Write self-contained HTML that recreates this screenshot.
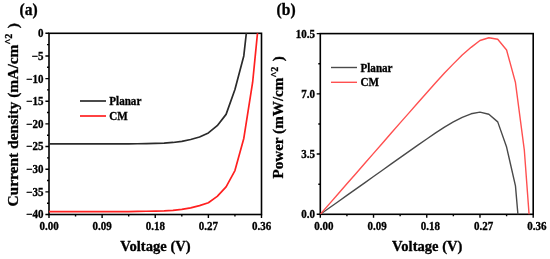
<!DOCTYPE html>
<html><head><meta charset="utf-8"><style>
html,body{margin:0;padding:0;background:#fff;}
body{width:550px;height:259px;overflow:hidden;}
svg{display:block;will-change:transform;filter:blur(0.35px);}
</style></head><body>
<svg width="550" height="259" viewBox="0 0 550 259">
<rect width="550" height="259" fill="#fff"/>
<g fill="none" stroke="#000" stroke-linecap="square">
<rect x="49.0" y="33.3" width="212.50" height="181.20" stroke-width="1.6"/>
<rect x="320.3" y="33.6" width="212.90" height="180.70" stroke-width="1.6"/>
</g>
<path d="M45.40,33.30H49.0M45.40,55.95H49.0M45.40,78.60H49.0M45.40,101.25H49.0M45.40,123.90H49.0M45.40,146.55H49.0M45.40,169.20H49.0M45.40,191.85H49.0M45.40,214.50H49.0M47.00,44.62H49.0M47.00,67.27H49.0M47.00,89.92H49.0M47.00,112.57H49.0M47.00,135.22H49.0M47.00,157.88H49.0M47.00,180.52H49.0M47.00,203.18H49.0M49.00,214.5V217.90M320.30,214.3V217.70M102.12,214.5V217.90M373.53,214.3V217.70M155.25,214.5V217.90M426.75,214.3V217.70M208.38,214.5V217.90M479.98,214.3V217.70M261.50,214.5V217.90M533.20,214.3V217.70M75.56,214.5V216.50M346.91,214.3V216.30M128.69,214.5V216.50M400.14,214.3V216.30M181.81,214.5V216.50M453.36,214.3V216.30M234.94,214.5V216.50M506.59,214.3V216.30M316.70,214.30H320.3M316.70,154.07H320.3M316.70,93.83H320.3M316.70,33.60H320.3M318.30,184.18H320.3M318.30,123.95H320.3M318.30,63.72H320.3" stroke="#000" stroke-width="1.4" fill="none"/>
<defs><clipPath id="ca"><rect x="49.00" y="33.30" width="212.50" height="181.20"/></clipPath>
<clipPath id="cb"><rect x="320.30" y="33.60" width="212.90" height="180.70"/></clipPath></defs>
<g clip-path="url(#ca)" fill="none" stroke-width="1.7" stroke-linejoin="round">
<polyline points="49.00,143.83 57.85,143.83 66.71,143.83 75.56,143.83 84.42,143.83 93.27,143.83 102.12,143.83 110.98,143.83 119.83,143.83 128.69,143.83 137.54,143.74 146.40,143.61 155.25,143.38 164.10,143.15 172.96,142.47 181.81,141.34 190.67,139.53 199.52,137.04 208.38,132.96 217.23,125.71 226.08,114.39 234.94,89.47 243.79,55.95 252.65,-23.33 261.50,-102.60" stroke="#2b2b2b"/>
<polyline points="49.00,211.56 57.85,211.56 66.71,211.56 75.56,211.56 84.42,211.56 93.27,211.56 102.12,211.56 110.98,211.56 119.83,211.56 128.69,211.56 137.54,211.33 146.40,211.24 155.25,211.10 164.10,210.88 172.96,210.42 181.81,209.29 190.67,207.93 199.52,205.67 208.38,202.72 217.23,196.38 226.08,186.87 234.94,170.56 243.79,138.40 252.65,82.22 261.50,-7.47" stroke="#ff2020"/>
</g>
<g clip-path="url(#cb)" fill="none" stroke-width="1.4" stroke-linejoin="round">
<polyline points="320.30,214.30 329.17,208.00 338.04,201.70 346.91,195.40 355.78,189.11 364.65,182.81 373.53,176.51 382.40,170.21 391.27,163.91 400.14,157.61 409.01,151.36 417.88,145.16 426.75,139.03 435.62,132.92 444.49,127.20 453.36,121.95 462.23,117.44 471.10,113.80 479.98,112.08 488.85,114.24 497.72,121.88 506.59,147.08 515.46,185.90 524.33,288.52 533.20,400.16" stroke="#4a4a4a"/>
<polyline points="320.30,214.30 329.17,204.14 338.04,193.98 346.91,183.83 355.78,173.67 364.65,163.51 373.53,153.35 382.40,143.19 391.27,133.04 400.14,122.88 409.01,112.85 417.88,102.76 426.75,92.71 435.62,82.75 444.49,72.99 453.36,63.87 462.23,55.08 471.10,47.32 479.98,40.52 488.85,37.73 497.72,39.28 506.59,50.04 515.46,82.54 524.33,150.18 533.20,270.06" stroke="#ff5050"/>
</g>
<path d="M80,101H106" stroke="#2b2b2b" stroke-width="1.7"/>
<path d="M80,116H106" stroke="#ff2020" stroke-width="1.7"/>
<path d="M331,67.5H357" stroke="#4a4a4a" stroke-width="1.4"/>
<path d="M331,82.3H357" stroke="#ff5050" stroke-width="1.4"/>
<g font-family='"Liberation Serif", serif' font-weight="bold" fill="#000" stroke="#000" stroke-width="0.3">
<text transform="translate(43.40,37.20) scale(1,1.06)" font-size="11" text-anchor="end">0</text>
<text transform="translate(43.40,59.85) scale(1,1.06)" font-size="11" text-anchor="end">−5</text>
<text transform="translate(43.40,82.50) scale(1,1.06)" font-size="11" text-anchor="end">−10</text>
<text transform="translate(43.40,105.15) scale(1,1.06)" font-size="11" text-anchor="end">−15</text>
<text transform="translate(43.40,127.80) scale(1,1.06)" font-size="11" text-anchor="end">−20</text>
<text transform="translate(43.40,150.45) scale(1,1.06)" font-size="11" text-anchor="end">−25</text>
<text transform="translate(43.40,173.10) scale(1,1.06)" font-size="11" text-anchor="end">−30</text>
<text transform="translate(43.40,195.75) scale(1,1.06)" font-size="11" text-anchor="end">−35</text>
<text transform="translate(43.40,218.40) scale(1,1.06)" font-size="11" text-anchor="end">−40</text>
<text transform="translate(315.00,218.20) scale(1,1.06)" font-size="11" text-anchor="end">0.0</text>
<text transform="translate(315.00,157.97) scale(1,1.06)" font-size="11" text-anchor="end">3.5</text>
<text transform="translate(315.00,97.73) scale(1,1.06)" font-size="11" text-anchor="end">7.0</text>
<text transform="translate(315.00,37.50) scale(1,1.06)" font-size="11" text-anchor="end">10.5</text>
<text transform="translate(49.00,229.60) scale(1,1.06)" font-size="11" text-anchor="middle">0.00</text>
<text transform="translate(323.90,230.40) scale(1,1.06)" font-size="11" text-anchor="middle">0.00</text>
<text transform="translate(102.12,229.60) scale(1,1.06)" font-size="11" text-anchor="middle">0.09</text>
<text transform="translate(377.13,230.40) scale(1,1.06)" font-size="11" text-anchor="middle">0.09</text>
<text transform="translate(155.25,229.60) scale(1,1.06)" font-size="11" text-anchor="middle">0.18</text>
<text transform="translate(430.35,230.40) scale(1,1.06)" font-size="11" text-anchor="middle">0.18</text>
<text transform="translate(208.38,229.60) scale(1,1.06)" font-size="11" text-anchor="middle">0.27</text>
<text transform="translate(483.58,230.40) scale(1,1.06)" font-size="11" text-anchor="middle">0.27</text>
<text transform="translate(261.50,229.60) scale(1,1.06)" font-size="11" text-anchor="middle">0.36</text>
<text transform="translate(536.80,230.40) scale(1,1.06)" font-size="11" text-anchor="middle">0.36</text>
<text transform="translate(155.50,251.40) scale(1,1.06)" font-size="14.6" text-anchor="middle">Voltage (V)</text>
<text transform="translate(427.30,251.40) scale(1,1.06)" font-size="14.6" text-anchor="middle">Voltage (V)</text>
<text transform="translate(19.60,15.30) scale(1,1.06)" font-size="15.5" text-anchor="start">(a)</text>
<text transform="translate(276.60,15.30) scale(1,1.06)" font-size="15.5" text-anchor="start">(b)</text>
<text transform="translate(17.60,206.60) scale(1,1.06) rotate(-90)" font-size="14.6" text-anchor="start">Current density (mA/cm<tspan font-size="9.5" dy="-5.3">^2</tspan><tspan dy="5.3" dx="1.5"> )</tspan></text>
<text transform="translate(283.40,178.60) scale(1,1.06) rotate(-90)" font-size="14.3" text-anchor="start">Power (mW/cm<tspan font-size="9.5" dy="-5.3">^2</tspan><tspan dy="5.3" dx="1.5"> )</tspan></text>
<text transform="translate(109.30,104.80) scale(1,1.06)" font-size="11.1" text-anchor="start">Planar</text>
<text transform="translate(109.30,119.60) scale(1,1.06)" font-size="11.1" text-anchor="start">CM</text>
<text transform="translate(360.50,71.50) scale(1,1.06)" font-size="11.1" text-anchor="start">Planar</text>
<text transform="translate(360.50,86.40) scale(1,1.06)" font-size="11.1" text-anchor="start">CM</text>
</g>
</svg>
</body></html>
